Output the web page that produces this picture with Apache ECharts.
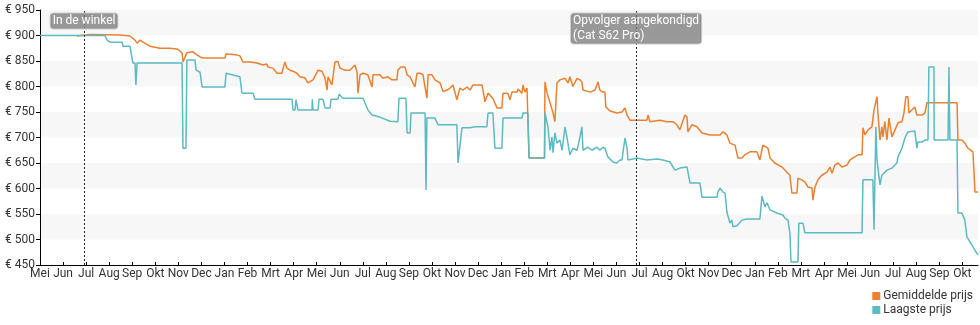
<!DOCTYPE html>
<html>
<head>
<meta charset="utf-8">
<script src="https://cdn.jsdelivr.net/npm/echarts@6/dist/echarts.min.js"></script>
<style>
html,body{margin:0;padding:0;background:#fff;}
#chart{width:980px;height:325px;}
</style>
</head>
<body>
<div id="chart"></div>
<script>
// Month ticks (index positions 0..40 on the x axis)
var tickLabels = ['Mei','Jun','Jul','Aug','Sep','Okt','Nov','Dec','Jan','Feb','Mrt','Apr',
  'Mei','Jun','Jul','Aug','Sep','Okt','Nov','Dec','Jan','Feb','Mrt','Apr',
  'Mei','Jun','Jul','Aug','Okt','Nov','Dec','Jan','Feb','Mrt','Apr',
  'Mei','Jun','Jul','Aug','Sep','Okt'];

var seriesNames = ['Gemiddelde prijs', 'Laagste prijs'];

// Gemiddelde prijs: position in months since first tick, price in euro
var avgMonth = [1.60,2.17,3.47,3.90,4.12,4.21,4.34,4.47,4.77,5.20,
  5.64,5.98,6.16,6.20,6.37,6.42,6.63,6.81,6.94,7.07,
  8.02,8.07,8.54,8.67,8.80,9.11,9.41,9.67,9.84,9.89,
  10.10,10.28,10.49,10.62,10.71,10.84,10.97,11.14,11.27,11.49,
  11.62,11.84,12.06,12.23,12.36,12.45,12.49,12.66,12.79,12.92,
  13.01,13.23,13.44,13.66,13.75,13.79,13.88,14.01,14.22,14.40,
  14.44,14.74,14.87,15.09,15.26,15.48,15.52,15.65,15.83,15.92,
  16.05,16.26,16.35,16.48,16.61,16.78,16.83,17.00,17.13,17.35,
  17.48,17.65,17.78,17.91,18.08,18.21,18.34,18.52,18.65,18.78,
  19.17,19.30,19.43,19.64,19.82,20.03,20.08,20.29,20.38,20.47,
  20.69,20.73,20.90,20.95,21.03,21.12,21.16,21.21,21.88,21.90,
  21.99,22.12,22.25,22.33,22.42,22.55,22.77,22.90,22.98,23.11,
  23.29,23.42,23.50,23.55,23.85,24.07,24.15,24.20,24.28,24.41,
  24.50,24.54,24.72,25.02,25.24,25.37,25.46,25.59,25.93,26.32,
  26.37,26.45,26.89,27.19,27.45,27.62,27.75,27.97,28.06,28.10,
  28.27,28.49,28.71,29.05,29.49,29.62,29.79,29.92,30.14,30.27,
  30.44,30.57,30.79,31.09,31.22,31.35,31.57,31.66,31.87,32.18,
  32.39,32.52,32.61,32.83,32.87,33.04,33.17,33.30,33.48,33.52,
  33.61,33.74,33.91,34.13,34.26,34.35,34.47,34.61,34.78,35.00,
  35.13,35.26,35.48,35.65,35.69,35.78,35.91,36.08,36.17,36.30,
  36.34,36.43,36.51,36.56,36.64,36.73,36.82,36.95,37.08,37.21,
  37.38,37.47,37.55,37.64,37.68,37.81,37.94,38.03,38.25,38.38,
  38.46,39.77,39.81,39.98,40.11,40.24,40.46,40.55,40.68];
var avgPrice = [899,902,901,899,891,885,891,887,879,875,
  875,873,866,848,866,868,868,862,858,856,
  856,864,862,860,848,848,846,842,844,838,
  836,826,826,848,836,832,830,826,819,817,
  807,813,832,830,817,793,819,803,848,849,
  836,832,832,842,828,787,823,826,823,799,
  823,823,816,819,813,813,832,838,838,823,
  819,799,826,826,823,777,823,823,813,807,
  790,793,797,803,774,797,793,799,793,803,
  803,770,787,777,758,758,787,787,774,789,
  789,795,787,803,789,797,799,660,660,809,
  787,768,748,731,807,813,816,807,819,800,
  816,813,809,793,789,793,795,809,793,789,
  789,760,752,748,750,758,744,734,734,734,
  744,731,734,731,731,725,715,744,740,711,
  725,721,709,705,705,711,705,689,685,660,
  660,666,672,672,656,685,679,660,650,642,
  632,626,591,591,620,617,613,603,601,577,
  603,617,626,632,642,630,646,650,642,646,
  656,660,666,666,719,705,715,721,754,780,
  748,695,721,701,731,695,738,701,715,729,
  731,748,780,780,748,754,760,744,744,748,
  768,768,695,695,689,679,672,593,593];

// Laagste prijs
var lowMonth = [0,2.82,2.91,3.04,3.56,3.60,3.90,4.03,4.12,4.16,
  4.21,6.16,6.20,6.33,6.37,6.72,6.77,6.94,7.03,8.02,
  8.07,8.33,8.67,8.76,9.24,9.32,10.93,10.97,11.06,11.10,
  11.19,11.80,11.81,11.84,12.06,12.10,12.27,12.36,12.58,12.62,
  12.92,12.97,13.14,14.01,14.22,14.40,14.74,15.18,15.52,15.57,
  15.87,15.92,16.05,16.09,16.70,16.74,16.78,17.13,17.26,18.08,
  18.13,18.21,18.30,18.65,18.86,19.38,19.43,19.64,19.73,20.03,
  20.08,20.90,20.95,21.16,21.21,21.88,21.90,22.03,22.12,22.20,
  22.25,22.33,22.42,22.55,22.64,22.77,22.85,22.98,23.11,23.29,
  23.42,23.50,23.55,23.63,23.76,23.94,24.15,24.28,24.41,24.50,
  24.63,24.85,25.02,25.15,25.24,25.37,25.46,25.50,25.89,26.32,
  26.76,27.02,27.32,27.54,27.75,28.06,28.10,28.19,28.62,28.71,
  29.36,29.40,29.49,29.62,29.71,29.79,29.92,30.01,30.05,30.23,
  30.44,30.66,31.22,31.31,31.44,31.53,31.66,31.96,32.22,32.31,
  32.44,32.52,32.57,32.87,32.91,33.09,33.17,35.65,35.69,36.12,
  36.17,36.25,36.30,36.43,36.51,36.73,36.95,37.16,37.21,37.38,
  37.51,37.64,37.94,38.03,38.07,38.25,38.38,38.51,38.55,38.77,
  38.78,39.38,39.42,39.46,39.77,39.81,39.98,40.11,40.20,40.42,
  40.63,40.68];
var lowPrice = [900,900,891,887,887,879,879,846,846,803,
  846,846,679,679,852,852,832,828,799,799,
  826,823,819,787,787,775,775,754,754,774,
  754,754,775,754,754,775,775,758,758,775,
  775,785,777,777,754,744,740,732,731,777,
  777,709,709,748,748,597,738,738,725,725,
  650,650,719,719,721,721,748,748,679,679,
  738,738,748,748,660,660,748,721,675,701,
  670,709,689,695,675,721,701,666,679,675,
  701,721,675,675,681,675,681,675,681,679,
  662,652,650,656,656,699,679,656,660,656,
  658,656,652,636,640,642,640,611,611,583,
  583,593,601,593,591,554,532,538,525,527,
  538,540,540,585,564,572,558,552,548,542,
  538,513,456,456,532,532,513,513,617,617,
  519,721,656,607,626,636,640,650,662,679,
  699,711,713,679,691,691,695,695,838,838,
  695,695,838,695,695,552,552,538,505,489,
  473,470];

// Events (vertical markers)
var eventMonths = [1.91, 25.85];
var eventLabels = ['In de winkel', 'Opvolger aangekondigd\n(Cat S62 Pro)'];

var yMin = 450, yMax = 950, yStep = 50;
var xMax = 40.68;

function pairs(xs, ys) { return xs.map(function (x, i) { return [x, ys[i]]; }); }
var tickIdx = tickLabels.map(function (_, i) { return i; });

var FONT = 'Roboto';
var chart = echarts.init(document.getElementById('chart'), null, { renderer: 'canvas' });
chart.setOption({
  animation: false,
  color: ['#ea8131', '#5bbac2'],
  textStyle: { fontFamily: FONT },
  grid: { left: 40, right: 2, top: 10, bottom: 60, containLabel: false },
  legend: {
    data: seriesNames,
    orient: 'vertical',
    right: 7,
    top: 290,
    itemWidth: 8,
    itemHeight: 8,
    itemGap: 2,
    padding: 0,
    icon: 'rect',
    textStyle: { fontSize: 12, color: '#333', fontFamily: FONT, padding: [0, 0, 0, -2] }
  },
  xAxis: {
    type: 'value',
    min: 0,
    max: xMax,
    axisLine: { show: true, onZero: false, lineStyle: { color: '#000', width: 1 } },
    axisTick: { show: true, inside: true, length: 3, customValues: tickIdx, lineStyle: { color: '#000' } },
    axisLabel: {
      customValues: tickIdx,
      margin: 3,
      fontSize: 12,
      color: '#333',
      fontFamily: FONT,
      formatter: function (v) { return tickLabels[Math.round(v)] || ''; }
    },
    splitLine: { show: false }
  },
  yAxis: {
    type: 'value',
    min: yMin,
    max: yMax,
    interval: yStep,
    axisLine: { show: true, lineStyle: { color: '#000', width: 1 } },
    axisTick: { show: true, length: 4, lineStyle: { color: '#000' } },
    axisLabel: {
      margin: 5,
      fontSize: 12,
      color: '#333',
      fontFamily: FONT,
      formatter: function (v) { return '\u20ac ' + v; }
    },
    splitLine: { show: false },
    splitArea: { show: true, areaStyle: { color: ['rgba(255,255,255,0)', '#f7f7f7'] } }
  },
  series: [
    {
      name: seriesNames[0],
      type: 'line',
      symbol: 'none',
      data: pairs(avgMonth, avgPrice),
      lineStyle: { width: 1.5 },
      markLine: {
        silent: true,
        symbol: ['none', 'none'],
        label: { show: false },
        lineStyle: { color: '#222', type: [2, 2], width: 1 },
        data: eventMonths.map(function (m) { return { xAxis: m }; })
      }
    },
    {
      name: seriesNames[1],
      type: 'line',
      symbol: 'none',
      data: pairs(lowMonth, lowPrice),
      lineStyle: { width: 1.5 },
      markPoint: {
        silent: true,
        symbol: 'circle',
        symbolSize: 1,
        itemStyle: { color: 'rgba(0,0,0,0)' },
        data: eventMonths.map(function (m, i) {
          var multi = eventLabels[i].indexOf('\n') >= 0;
          return {
            coord: [m, yMax],
            name: eventLabels[i],
            label: multi ? { align: 'left', offset: [-65, 0] } : {}
          };
        }),
        label: {
          show: true,
          position: 'bottom',
          distance: 3,
          formatter: '{b}',
          color: '#fff',
          fontSize: 12,
          fontFamily: FONT,
          lineHeight: 15,
          backgroundColor: 'rgba(125,125,125,0.78)',
          borderColor: 'rgba(200,200,200,0.9)',
          borderWidth: 1,
          borderRadius: 3,
          padding: [0, 2, 0, 2]
        }
      }
    }
  ]
});
</script>
</body>
</html>
